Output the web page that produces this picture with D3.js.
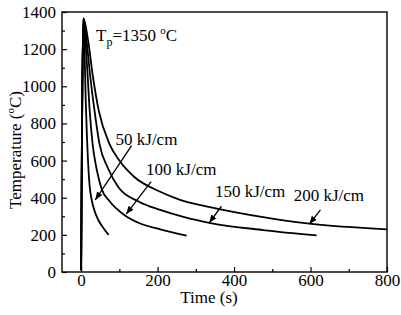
<!DOCTYPE html>
<html><head><meta charset="utf-8">
<script src="https://cdn.jsdelivr.net/npm/d3@7"></script>
<style>body{margin:0;background:#fff}svg{display:block}</style>
</head><body><svg id="c" width="401" height="315"></svg>
<script>
// Data (time s, temperature °C)
const seriesNames = ["50 kJ/cm","100 kJ/cm","150 kJ/cm","200 kJ/cm"];
const curve50  = [[0,10],[6,1365],[8,1250],[10,1100],[12,930],[15,740],[18,600],[22,470],[28,385],[35,330],[45,280],[60,232],[72,200]];
const curve100 = [[0,10],[6,1365],[11,1250],[17,1060],[22,880],[30,690],[40,560],[54,445],[75,380],[111,310],[150,265],[207,230],[276,196]];
const curve150 = [[0,10],[6,1365],[14,1250],[24,1050],[35,870],[48,690],[70,560],[98,455],[150,380],[207,334],[270,295],[335,265],[476,226],[616,197]];
const curve200 = [[0,10],[6,1365],[18,1250],[31,1050],[46,870],[74,690],[100,600],[140,510],[207,432],[259,388],[346,345],[476,295],[597,260],[800,230]];
const xTicks = [0,200,400,600,800];
const xMinor = [100,300,500,700];
const yTicks = [0,200,400,600,800,1000,1200,1400];
const yMinor = [100,300,500,700,900,1100,1300];
// label anchor (time,temp) and arrow tip (time,temp)
const labelPos = [[90,685],[170,525],[350,405],[556,385]];
const arrowFrom = [[132,680],[183,487],[367,354],[626,334]];
const arrowTo = [[37,388],[118,312],[335,265],[597,258]];

const FONT = '"Liberation Serif", serif';
const svg = d3.select("#c");
const m = {l:62, t:12, r:387, b:272};
const x = d3.scaleLinear().domain([-50,800]).range([m.l,m.r]);
const y = d3.scaleLinear().domain([0,1400]).range([m.b,m.t]);

svg.append("defs").append("marker").attr("id","ah").attr("viewBox","0 0 10 10")
  .attr("refX",10).attr("refY",5).attr("markerWidth",8).attr("markerHeight",8)
  .attr("markerUnits","userSpaceOnUse").attr("orient","auto")
  .append("path").attr("d","M0,1 L10,5 L0,9 Z").attr("fill","#000");

// frame
svg.append("rect").attr("x",m.l).attr("y",m.t).attr("width",m.r-m.l).attr("height",m.b-m.t)
  .attr("fill","none").attr("stroke","#000").attr("stroke-width",1.4);

// axes
svg.append("g").attr("transform",`translate(0,${m.b})`)
  .call(d3.axisBottom(x).tickValues(xTicks).tickFormat(d3.format("d")).tickSizeInner(-5).tickSizeOuter(0).tickPadding(2));
svg.append("g").attr("transform",`translate(0,${m.b})`)
  .call(d3.axisBottom(x).tickValues(xMinor).tickSizeInner(-3).tickSizeOuter(0).tickFormat(""));
svg.append("g").attr("transform",`translate(${m.l},0)`)
  .call(d3.axisLeft(y).tickValues(yTicks).tickFormat(d3.format("d")).tickSizeInner(-5).tickSizeOuter(0).tickPadding(6));
svg.append("g").attr("transform",`translate(${m.l},0)`)
  .call(d3.axisLeft(y).tickValues(yMinor).tickSizeInner(-3).tickSizeOuter(0).tickFormat(""));
svg.selectAll(".domain").remove();
svg.selectAll(".tick line").attr("stroke","#000").attr("stroke-width",1.2);
svg.selectAll(".tick text").attr("font-size",null).style("font-size","17px").style("font-family",FONT).attr("fill","#000");

function txt(sel){ return sel.style("font-family",FONT).style("font-size","17px").attr("fill","#000"); }

// axis titles
txt(svg.append("text")).attr("x",209).attr("y",303).attr("text-anchor","middle").text("Time (s)");
const yt = txt(svg.append("text")).attr("transform","translate(21,150) rotate(-90)").attr("text-anchor","middle");
yt.append("tspan").text("Temperature (");
yt.append("tspan").style("font-size","11px").attr("dy",-7).text("o");
yt.append("tspan").attr("dy",7).text("C)");

// curves
const line = d3.line().x(d=>x(d[0])).y(d=>y(d[1])).curve(d3.curveMonotoneX);
[curve50,curve100,curve150,curve200].forEach(c=>{
  svg.append("path").datum(c).attr("d",line).attr("fill","none").attr("stroke","#000").attr("stroke-width",1.8);
});

// Tp label
const tp = txt(svg.append("text")).attr("x",96).attr("y",41);
tp.append("tspan").text("T");
tp.append("tspan").style("font-size","12px").attr("dy",5).text("p");
tp.append("tspan").attr("dy",-5).text("=1350 ");
tp.append("tspan").style("font-size","11px").attr("dy",-7).text("o");
tp.append("tspan").attr("dy",7).text("C");

// series labels and arrows
seriesNames.forEach((n,i)=>{
  txt(svg.append("text")).attr("x",x(labelPos[i][0])).attr("y",y(labelPos[i][1])).text(n);
  svg.append("line").attr("x1",x(arrowFrom[i][0])).attr("y1",y(arrowFrom[i][1]))
    .attr("x2",x(arrowTo[i][0])).attr("y2",y(arrowTo[i][1]))
    .attr("stroke","#000").attr("stroke-width",1.3).attr("marker-end","url(#ah)");
});
</script></body></html>
